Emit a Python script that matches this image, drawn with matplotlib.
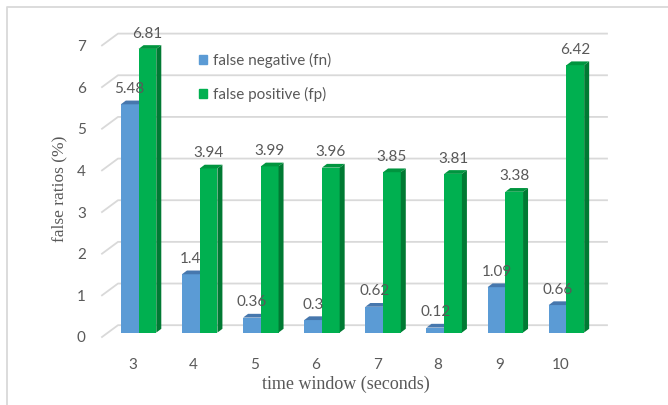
import numpy as np
import matplotlib.pyplot as plt
from matplotlib.patches import Polygon, Patch
from matplotlib.lines import Line2D

# false ratio per time window
windows = ["3", "4", "5", "6", "7", "8", "9", "10"]
fn_vals = [5.48, 1.4, 0.36, 0.3, 0.62, 0.12, 1.09, 0.66]
fp_vals = [6.81, 3.94, 3.99, 3.96, 3.85, 3.81, 3.38, 6.42]

blue, blue_top = "#5B9BD5", "#4677AD"
green, green_top, green_side = "#00B050", "#00953F", "#007A33"
grid_c = "#D9D9D9"
txt_c = "#595959"

W, H = 668, 405
fig = plt.figure(figsize=(W / 100, H / 100), dpi=100)
ax = fig.add_axes([108 / W, 68 / H, 489 / W, 296 / H])
ax.set_xlim(-0.5, 7.5)
ax.set_ylim(0, 7)
for s in ax.spines.values():
    s.set_visible(False)

# pixel -> data units for the fake depth
px_x = 8.0 / 489
px_y = 7.0 / 296
bar_dx, bar_dy = 5 * px_x, 3.8 * px_y       # bar depth
wall_dx, wall_dy = 10 * px_x, 7.5 * px_y    # back wall
floor_dx, floor_dy = -6 * px_x, -4.5 * px_y  # front edge of floor

# gridlines on the back wall with the slanted side-wall part
for v in range(8):
    ax.add_line(Line2D([-0.5 + floor_dx, -0.5 + wall_dx, 7.5 + wall_dx],
                       [v + floor_dy, v + wall_dy, v + wall_dy],
                       color=grid_c, lw=1.3, clip_on=False, zorder=1))

x = np.arange(len(windows))
w = 0.29

def bar3d(x0, h, front, top, side):
    ax.bar(x0, h, width=w, align="edge", color=front, zorder=3, clip_on=False)
    ax.add_patch(Polygon([(x0, h), (x0 + w, h), (x0 + w + bar_dx, h + bar_dy), (x0 + bar_dx, h + bar_dy)],
                         closed=True, color=top, lw=0, zorder=3, clip_on=False))
    if side:
        ax.add_patch(Polygon([(x0 + w, 0), (x0 + w + bar_dx, bar_dy), (x0 + w + bar_dx, h + bar_dy), (x0 + w, h)],
                             closed=True, color=side, lw=0, zorder=3, clip_on=False))

for i in range(len(windows)):
    bar3d(x[i] - w, fn_vals[i], blue, blue_top, None)
    bar3d(x[i], fp_vals[i], green, green_top, green_side)
    ax.annotate(f"{fn_vals[i]:g}", (x[i] - w / 2, fn_vals[i]), xytext=(0, 6), textcoords="offset points",
                ha="center", va="bottom", fontsize=11, color=txt_c, family="Lato", zorder=5)
    ax.annotate(f"{fp_vals[i]:g}", (x[i] + w / 2, fp_vals[i]), xytext=(0, 6), textcoords="offset points",
                ha="center", va="bottom", fontsize=11, color=txt_c, family="Lato", zorder=5)

ax.set_xticks(x + floor_dx, windows)
ax.set_yticks(np.arange(8) + floor_dy, [str(v) for v in range(8)])
ax.tick_params(length=0, labelsize=11, labelcolor=txt_c)
ax.tick_params(axis="x", pad=15)
ax.tick_params(axis="y", pad=16)
for lab in ax.get_xticklabels() + ax.get_yticklabels():
    lab.set_family("Lato")

ax.set_xlabel("time window (seconds)", family="Liberation Serif", fontsize=13, color=txt_c)
ax.xaxis.set_label_coords(0.487, -0.132)
ax.set_ylabel("false ratios (%)", family="Liberation Serif", fontsize=12.5, color=txt_c, labelpad=7)

handles = [Patch(color=blue, label="false negative (fn)"),
           Patch(color=green, label="false positive (fp)")]
leg = ax.legend(handles=handles, loc="upper left", bbox_to_anchor=(199 / W, 1 - 53 / H),
                bbox_transform=fig.transFigure, frameon=False, handlelength=0.5, handleheight=0.5,
                handletextpad=0.4, labelspacing=1.25, borderpad=0, borderaxespad=0,
                prop={"family": "Lato", "size": 11})
for t in leg.get_texts():
    t.set_color(txt_c)

# chart frame (top and left edges)
fig.add_artist(Line2D([7 / W, 7 / W, 1], [0, 1 - 7 / H, 1 - 7 / H], color="#D9D9D9", lw=1.3,
                      transform=fig.transFigure))

fig.savefig("out.png", dpi=100)
